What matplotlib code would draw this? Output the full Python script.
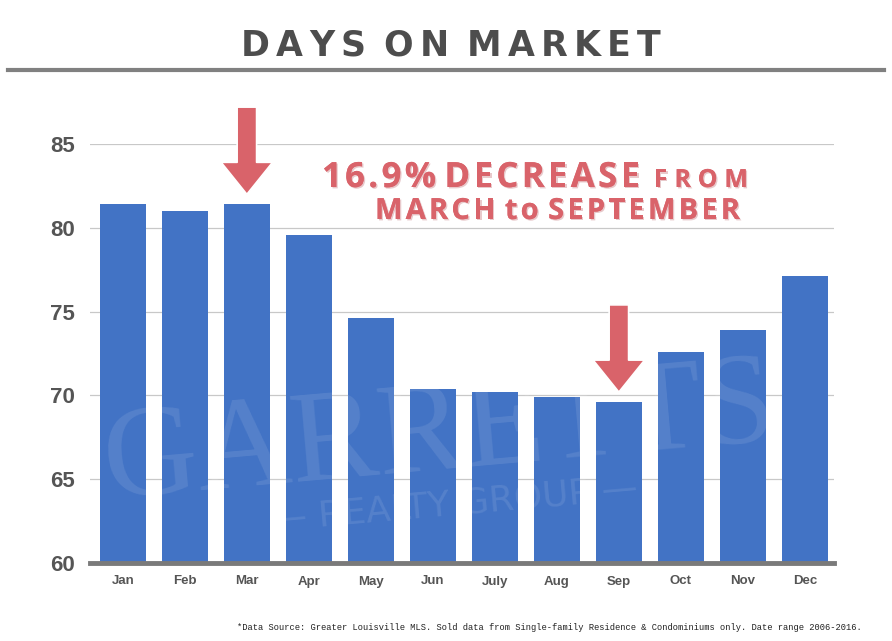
import matplotlib
matplotlib.use("Agg")
import matplotlib.pyplot as plt
import matplotlib.patheffects as pe
from matplotlib.lines import Line2D

months = ["Jan", "Feb", "Mar", "Apr", "May", "Jun", "July", "Aug", "Sep", "Oct", "Nov", "Dec"]
days = [81.4, 81.0, 81.4, 79.6, 74.6, 70.4, 70.2, 69.9, 69.6, 72.6, 73.9, 77.1]
yticks = [60, 65, 70, 75, 80, 85]
arrow_months = ["Mar", "Sep"]

BLUE = "#4273c5"
RED = "#d9636a"
GRAY = "#555555"
W, H = 892, 641

fig = plt.figure(figsize=(W / 100, H / 100), dpi=100)
renderer = fig.canvas.get_renderer()


def spaced_text(s, left, right, y, word_gap=2.5, **kw):
    # lay out characters one by one so the string fills [left, right] in pixels
    widths = []
    for ch in s:
        if ch == " ":
            widths.append(None)
            continue
        t = fig.text(0, 0, ch, **kw)
        widths.append(t.get_window_extent(renderer).width)
        t.remove()
    n_chars = sum(1 for w in widths if w is not None)
    n_spaces = s.count(" ")
    gaps = (n_chars - 1 - n_spaces) + n_spaces * word_gap
    track = (right - left - sum(w for w in widths if w is not None)) / gaps
    xpos = left
    for ch, w in zip(s, widths):
        if w is None:
            xpos += track * (word_gap - 1)
            continue
        fig.text(xpos / W, 1 - y / H, ch, ha="left", va="baseline", **kw)
        xpos += w + track


ax = fig.add_axes([90 / W, 1 - 563 / H, (834 - 90) / W, (563 - 144) / H])

x = range(len(months))
ax.bar(x, days, width=0.74, color=BLUE, zorder=2)
ax.set_xlim(-0.53, len(months) - 0.53)
ax.set_ylim(60, 85)

ax.set_yticks(yticks)
ax.set_yticklabels([str(t) for t in yticks], fontsize=16, fontweight="bold",
                   color=GRAY, family="Liberation Sans")
ax.set_xticks(list(x))
ax.set_xticklabels(months, fontsize=9.5, fontweight="bold", color=GRAY,
                   family="Liberation Sans")
ax.tick_params(axis="y", length=0, pad=11)
ax.tick_params(axis="x", length=0, pad=9)
ax.grid(axis="y", color="#c8c8c8", linewidth=0.9, zorder=0)
ax.set_axisbelow(True)
for s in ["top", "right", "left"]:
    ax.spines[s].set_visible(False)
ax.spines["bottom"].set_color("#7a7a7a")
ax.spines["bottom"].set_linewidth(3.5)
ax.spines["bottom"].set_zorder(3)

# watermark
ax.text(0.47, 0.30, "GARRETTS", transform=ax.transAxes, ha="center", va="center",
        fontsize=94, family="Liberation Serif", color="white", alpha=0.1,
        rotation=5, zorder=4)
ax.text(0.49, 0.14, "\u2014 REALTY GROUP \u2014", transform=ax.transAxes, ha="center",
        va="center", fontsize=26, family="DejaVu Sans", color="white", alpha=0.1,
        rotation=5, zorder=4)

# arrows above March and September
for m in arrow_months:
    i = months.index(m)
    v = days[i]
    ax.annotate("", xy=(i, v + 0.6), xytext=(i, v + 5.8),
                arrowprops=dict(arrowstyle="simple,head_length=2.3,head_width=3.7,tail_width=1.4",
                                fc=RED, ec="white", lw=1.2, mutation_scale=10,
                                shrinkA=0, shrinkB=0),
                annotation_clip=False, zorder=5)

shadow = [pe.withSimplePatchShadow(offset=(1, -1), shadow_rgbFace="#e8c9cb", alpha=1.0), pe.Normal()]
red_kw = dict(fontweight="bold", family="Open Sans", color=RED, path_effects=shadow)
spaced_text("16.9% DECREASE", 322, 640, 187, fontsize=25, **red_kw)
spaced_text("FROM", 654, 748, 187, fontsize=18, **red_kw)
spaced_text("MARCH to SEPTEMBER", 375, 740, 219, word_gap=3, fontsize=21, **red_kw)

# title and rule
spaced_text("DAYS ON MARKET", 241, 660, 56, word_gap=3, fontsize=25, fontweight="bold",
            family="DejaVu Sans", color="#4d4d4d")
fig.add_artist(Line2D([8 / W, 884 / W], [1 - 70 / H] * 2, color="#808080", linewidth=3))

fig.text(237 / W, 1 - 628 / H,
         "*Data Source: Greater Louisville MLS. Sold data from Single-family Residence & "
         "Condominiums only. Date range 2006-2016.",
         fontsize=6.3, family="Liberation Mono", color="#222222", ha="left", va="center")

fig.savefig("out.png", dpi=100)
